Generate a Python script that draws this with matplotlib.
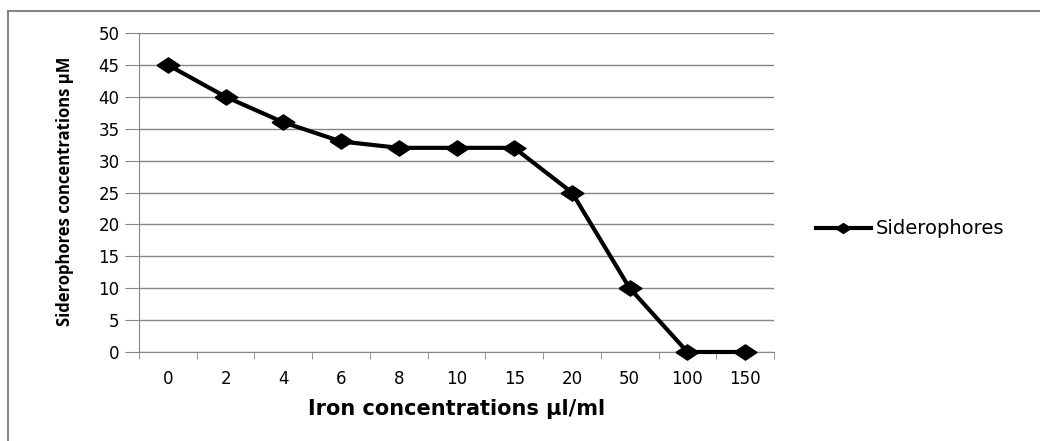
import matplotlib.pyplot as plt
from matplotlib.patches import Rectangle

# iron concentrations (categories) and siderophore values
iron_labels = ['0', '2', '4', '6', '8', '10', '15', '20', '50', '100', '150']
siderophores = [45, 40, 36, 33, 32, 32, 32, 25, 10, 0, 0]
y_ticks = [0, 5, 10, 15, 20, 25, 30, 35, 40, 45, 50]

plt.rcParams['font.family'] = ['DejaVu Sans']

fig = plt.figure(figsize=(10.4, 4.41), dpi=100)

# outer chart border (only top and left visible in the reference)
fig.patches.append(Rectangle((8 / 1040, -0.1), 1.2, 1 - 11 / 441 + 0.1,
                             transform=fig.transFigure, fill=False,
                             edgecolor='#868686', linewidth=1.5))

ax = fig.add_axes([139 / 1040, 1 - 352 / 441, (774 - 139) / 1040, (352 - 33) / 441])

# wide diamond marker (the chart looks stretched sideways)
wide_diamond = [(-1.5, 0), (0, 1), (1.5, 0), (0, -1), (-1.5, 0)]

x = list(range(len(iron_labels)))
ax.plot(x, siderophores, color='black', linewidth=3, marker=wide_diamond,
        markersize=16.5, label='Siderophores', clip_on=False, zorder=5)

ax.set_xlim(-0.5, len(iron_labels) - 0.5)
ax.set_ylim(0, 50)
ax.set_yticks(y_ticks)
ax.set_xticks(x)
ax.set_xticklabels(iron_labels)
ax.set_xticks([i - 0.5 for i in range(len(iron_labels) + 1)], minor=True)

ax.grid(axis='y', color='#868686', linewidth=1)
ax.set_axisbelow(True)
for side in ['top', 'right']:
    ax.spines[side].set_visible(False)
ax.spines['left'].set_color('#868686')
ax.spines['bottom'].set_color('#868686')

ax.tick_params(axis='x', which='major', length=0, pad=13, labelsize=12)
ax.tick_params(axis='x', which='minor', length=5, color='#868686')
ax.tick_params(axis='y', length=10, color='#868686', pad=4, labelsize=12)

ax.set_xlabel('Iron concentrations µl/ml', fontsize=15, fontweight='bold', labelpad=8)
ax.set_ylabel('Siderophores concentrations µM', fontsize=12, fontweight='bold',
              family=['Open Sans', 'DejaVu Sans'])
ax.yaxis.set_label_coords(-0.103, 0.505)

ax.legend(loc='center left', bbox_to_anchor=(1.054, 0.386), frameon=False,
          borderaxespad=0, fontsize=14, handlelength=2.8, handletextpad=0.25,
          markerscale=0.65)

fig.savefig('out.png', dpi=100)
